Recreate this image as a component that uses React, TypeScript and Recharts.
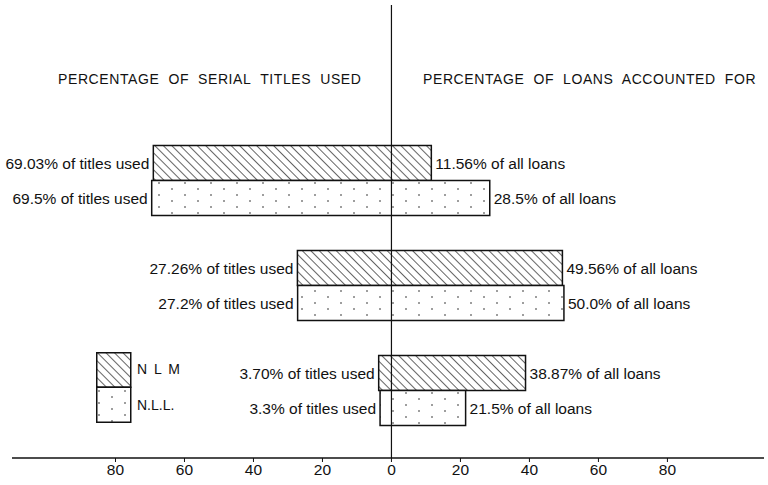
import { BarChart, Bar, XAxis, YAxis, ReferenceLine, LabelList } from 'recharts';

const groups = ['Group 1', 'Group 2', 'Group 3'];
const nlmTitles = [69.03, 27.26, 3.7];
const nlmLoans = [11.56, 49.56, 38.87];
const nllTitles = [69.5, 27.2, 3.3];
const nllLoans = [28.5, 50.0, 21.5];
const nlmTitleText = ['69.03', '27.26', '3.70'];
const nlmLoanText = ['11.56', '49.56', '38.87'];
const nllTitleText = ['69.5', '27.2', '3.3'];
const nllLoanText = ['28.5', '50.0', '21.5'];
const xTicks = [-80, -60, -40, -20, 0, 20, 40, 60, 80];

const data = groups.map((g, i) => ({
  group: g,
  nlm: [-nlmTitles[i], nlmLoans[i]],
  nll: [-nllTitles[i], nllLoans[i]],
  nlmLeft: `${nlmTitleText[i]}% of titles used`,
  nlmRight: `${nlmLoanText[i]}% of all loans`,
  nllLeft: `${nllTitleText[i]}% of titles used`,
  nllRight: `${nllLoanText[i]}% of all loans`,
}));

const font = '"Liberation Sans", Arial, sans-serif';
const labelStyle = { fontSize: 15.5, fill: '#111', fontFamily: font };

function Patterns() {
  return (
    <defs>
      <pattern id="hatch" width="6" height="6" patternUnits="userSpaceOnUse" patternTransform="rotate(-45)">
        <rect width="6" height="6" fill="#fff" />
        <line x1="0" y1="0" x2="0" y2="6" stroke="#111" strokeWidth="1.3" />
      </pattern>
      <pattern id="dots" width="26" height="12" patternUnits="userSpaceOnUse">
        <rect width="26" height="12" fill="#fff" />
        <circle cx="3" cy="3" r="0.8" fill="#222" />
        <circle cx="16" cy="9" r="0.8" fill="#222" />
      </pattern>
    </defs>
  );
}

export default function App() {
  return (
    <div style={{ position: 'absolute', left: 0, top: 0, width: 768, height: 485, background: '#fff', fontFamily: font }}>
      <BarChart
        width={768}
        height={485}
        data={data}
        layout="vertical"
        margin={{ top: 5, right: 4, bottom: 0, left: 12 }}
        barGap={0}
        barSize={35}
      >
        <Patterns />
        <XAxis
          type="number"
          domain={[-110, 108]}
          ticks={xTicks}
          tickFormatter={(v: number) => String(Math.abs(v))}
          axisLine={{ stroke: '#111', strokeWidth: 1.5 }}
          tickLine={{ stroke: '#111' }}
          tickSize={4}
          height={27}
          tick={{ fontSize: 15.5, fill: '#111', fontFamily: font }}
          allowDataOverflow
        />
        <YAxis type="category" dataKey="group" hide padding={{ top: 122.5, bottom: 15.5 }} />
        <ReferenceLine x={0} stroke="#111" strokeWidth={1.2} />
        <Bar dataKey="nlm" fill="url(#hatch)" stroke="#111" strokeWidth={1.5} isAnimationActive={false}>
          <LabelList dataKey="nlmLeft" position="left" offset={4} style={labelStyle} />
          <LabelList dataKey="nlmRight" position="right" offset={4} style={labelStyle} />
        </Bar>
        <Bar dataKey="nll" fill="url(#dots)" stroke="#111" strokeWidth={1.5} isAnimationActive={false}>
          <LabelList dataKey="nllLeft" position="left" offset={4} style={labelStyle} />
          <LabelList dataKey="nllRight" position="right" offset={4} style={labelStyle} />
        </Bar>
      </BarChart>
      <div style={{ position: 'absolute', left: 58, top: 71, fontSize: 14, letterSpacing: 0.6, color: '#111', whiteSpace: 'nowrap' }}>
        PERCENTAGE&nbsp; OF&nbsp; SERIAL&nbsp; TITLES&nbsp; USED
      </div>
      <div style={{ position: 'absolute', left: 423, top: 71, fontSize: 14, letterSpacing: 0.6, color: '#111', whiteSpace: 'nowrap' }}>
        PERCENTAGE&nbsp; OF&nbsp; LOANS&nbsp; ACCOUNTED&nbsp; FOR
      </div>
      <div style={{ position: 'absolute', left: 96, top: 352 }}>
        <svg width={110} height={72}>
          <Patterns />
          <rect x={0.75} y={0.75} width={34} height={34.5} fill="url(#hatch)" stroke="#111" strokeWidth={1.5} />
          <rect x={0.75} y={35.25} width={34} height={35} fill="url(#dots)" stroke="#111" strokeWidth={1.5} />
          <text x={41} y={22} fontSize={14} fill="#111" fontFamily={font} letterSpacing={1.5}>N L M</text>
          <text x={41} y={58} fontSize={14} fill="#111" fontFamily={font}>N.L.L.</text>
        </svg>
      </div>
    </div>
  );
}
